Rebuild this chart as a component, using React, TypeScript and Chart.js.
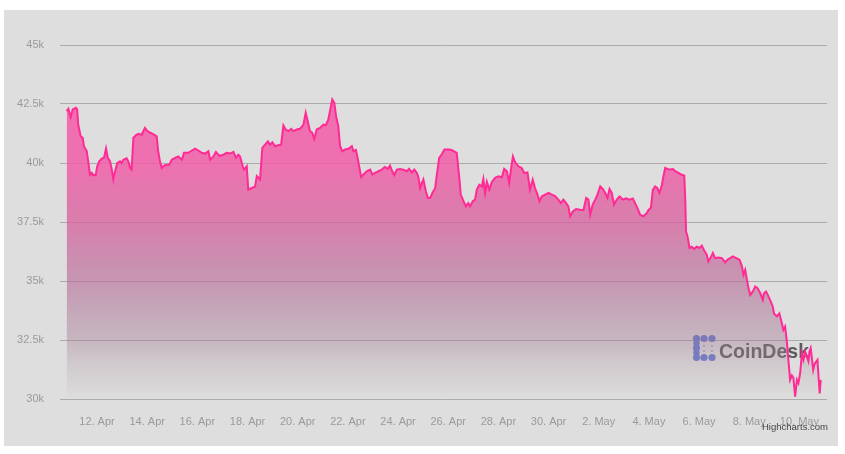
import React, { useEffect, useRef } from "react";
import { Chart, registerables } from "chart.js";

Chart.register(...registerables);

// Days since 12 Apr 00:00
const days = [
  -1.21, -1.14, -1.05, -0.97, -0.84, -0.79, -0.75, -0.65, -0.57, -0.52,
  -0.41, -0.35, -0.28, -0.21, -0.15, -0.05, 0.01, 0.09, 0.19, 0.28,
  0.36, 0.43, 0.52, 0.59, 0.65, 0.72, 0.81, 0.92, 0.98, 1.05,
  1.18, 1.25, 1.32, 1.38, 1.45, 1.56, 1.65, 1.78, 1.91, 2.01,
  2.14, 2.27, 2.38, 2.44, 2.51, 2.58, 2.64, 2.75, 2.88, 2.98,
  3.11, 3.24, 3.38, 3.47, 3.64, 3.78, 3.91, 4.04, 4.17, 4.31,
  4.44, 4.51, 4.64, 4.74, 4.88, 5.04, 5.17, 5.30, 5.44, 5.54,
  5.63, 5.70, 5.81, 5.86, 5.97, 6.03, 6.17, 6.30, 6.37, 6.50,
  6.59, 6.70, 6.81, 6.90, 6.99, 7.10, 7.23, 7.34, 7.43, 7.52,
  7.63, 7.74, 7.83, 7.96, 8.09, 8.23, 8.32, 8.40, 8.49, 8.58,
  8.66, 8.76, 8.89, 9.02, 9.12, 9.22, 9.30, 9.38, 9.46, 9.53,
  9.62, 9.69, 9.78, 9.89, 10.02, 10.16, 10.22, 10.32, 10.39, 10.45,
  10.53, 10.62, 10.75, 10.89, 10.98, 11.08, 11.22, 11.35, 11.48, 11.59,
  11.68, 11.77, 11.85, 11.95, 12.08, 12.21, 12.35, 12.44, 12.55, 12.65,
  12.75, 12.81, 12.88, 12.95, 13.01, 13.11, 13.19, 13.28, 13.37, 13.48,
  13.54, 13.64, 13.74, 13.85, 14.01, 14.14,
  14.34, 14.45, 14.50, 14.61, 14.71, 14.80, 14.87, 14.98, 15.07, 15.14,
  15.24, 15.34, 15.40, 15.47, 15.54, 15.64, 15.74, 15.87, 16.00, 16.14,
  16.23, 16.34, 16.43, 16.50, 16.58, 16.67, 16.80, 16.93, 17.03, 17.16,
  17.26, 17.37, 17.46, 17.56, 17.64, 17.73, 17.86, 18.00, 18.13, 18.26,
  18.39, 18.49, 18.59, 18.70, 18.79, 18.86, 18.97, 19.10, 19.26, 19.39,
  19.50, 19.59, 19.66, 19.76, 19.86, 19.95, 20.06, 20.16, 20.26, 20.35,
  20.43, 20.52, 20.61, 20.72, 20.83, 20.96, 21.09, 21.22, 21.36, 21.45,
  21.54, 21.65, 21.78, 21.92,
  21.98, 22.08, 22.16, 22.25, 22.34, 22.42, 22.52, 22.58, 22.65, 22.74,
  22.85, 22.95, 23.05, 23.18, 23.31, 23.41, 23.45, 23.48, 23.54, 23.62,
  23.71, 23.80, 23.91, 24.01, 24.11, 24.20, 24.31, 24.37, 24.47, 24.55,
  24.64, 24.77, 24.91, 25.04, 25.13, 25.24, 25.35, 25.48, 25.61, 25.71,
  25.77, 25.84, 25.91, 25.97, 26.04, 26.14, 26.24, 26.33, 26.44, 26.54,
  26.59, 26.67, 26.77, 26.86, 26.94, 26.99, 27.10, 27.20, 27.30, 27.36,
  27.43, 27.50, 27.56, 27.63, 27.70, 27.76, 27.83, 27.90, 27.96, 28.03,
  28.10, 28.16, 28.23, 28.30, 28.36, 28.40, 28.45, 28.55, 28.61, 28.72,
  28.77, 28.81, 28.85,
];

const prices = [
  42200, 42300, 41940, 42270, 42340, 42270, 41630, 41130, 41070, 40710,
  40500, 40070, 39510, 39580, 39480, 39500, 39860, 40070, 40190, 40220,
  40610, 40220, 40070, 39720, 39300, 39650, 40000, 40070, 40000, 40140,
  40200, 40070, 39790, 39720, 41070, 41180, 41240, 41200, 41490, 41350,
  41280, 41200, 41130, 40500, 40070, 39790, 39860, 39930, 39930, 40140,
  40220, 40280, 40140, 40430, 40430, 40530, 40610, 40530, 40430, 40400,
  40500, 40140, 40280, 40470, 40300, 40350, 40430, 40400, 40470, 40220,
  40350, 40280, 39860, 39720, 39860, 38870, 38940, 39000, 39440, 39300,
  40640, 40780, 40920, 40780, 40880, 40710, 40750, 40780, 41590, 41420,
  41350, 41450, 41350, 41420, 41450, 41630, 42130, 41770, 41350, 41280,
  41020, 41420, 41490, 41630, 41600, 41840, 42270, 42690, 42550, 41980,
  41560, 40710, 40500, 40570, 40600, 40710, 40500, 40550, 40220, 39860,
  39410, 39510, 39650, 39720, 39510, 39580, 39650, 39720, 39830, 39750,
  39890, 39650, 39480, 39720, 39750, 39720, 39650, 39750, 39600, 39720,
  39580, 39410, 38940, 39160, 39300, 38800, 38520, 38520, 38730, 38940,
  39440, 40220, 40360, 40570, 40570, 40550,
  40430, 39300, 38660, 38380, 38160, 38300, 38160, 38380, 38450, 38870,
  39080, 39000, 39320, 38730, 39200, 38870, 39200, 39370, 39440, 39400,
  39750, 39650, 39160, 39720, 40280, 40030, 39860, 39790, 39580, 39600,
  38870, 39300, 38940, 38660, 38380, 38580, 38660, 38730, 38660, 38600,
  38450, 38300, 38450, 38300, 38160, 37740, 37950, 38050, 38020, 38000,
  38520, 38450, 37810, 38240, 38450, 38660, 39010, 38900, 38730, 38520,
  38900, 38730, 38240, 38450, 38580, 38450, 38500, 38450, 38500, 38300,
  38100, 37810, 37740, 37880,
  38000, 38100, 38870, 39010, 38940, 38730, 39080, 39440, 39790, 39750,
  39720, 39750, 39650, 39580, 39500, 39470, 38450, 37100, 36890, 36400,
  36450, 36360, 36450, 36400, 36500, 36300, 36110, 35830, 36000, 36190,
  35970, 36000, 35970, 35790, 35900, 35970, 36040, 35970, 35900, 35620,
  35260, 35470, 35050, 34700, 34410, 34550, 34770, 34700, 34480, 34200,
  34480, 34550, 34340, 34130, 33900, 33610, 33500, 33630, 33210, 32930,
  33070, 32430, 31660, 30810, 31000, 30900, 30100, 30810, 30670, 31090,
  31940, 31660, 32000, 31800, 31600, 32000, 32150, 31230, 31500, 31660,
  30810, 30240, 30810,
];

const xTickDays = [0, 2, 4, 6, 8, 10, 12, 14, 16, 18, 20, 22, 24, 26, 28];
const xTickLabels = [
  "12. Apr", "14. Apr", "16. Apr", "18. Apr", "20. Apr", "22. Apr", "24. Apr",
  "26. Apr", "28. Apr", "30. Apr", "2. May", "4. May", "6. May", "8. May", "10. May",
];
const yTickValues = [30000, 32500, 35000, 37500, 40000, 42500, 45000];
const yTickLabels = ["30k", "32.5k", "35k", "37.5k", "40k", "42.5k", "45k"];

const FONT = '"Liberation Sans", Arial, Helvetica, sans-serif';

export default function App() {
  const ref = useRef<HTMLCanvasElement>(null);

  useEffect(() => {
    const canvas = ref.current;
    if (!canvas) return;

    const brand = {
      id: "brand",
      beforeDatasetsDraw(chart: any) {
        const ctx = chart.ctx;
        const a = chart.chartArea;
        const lx = a.right - 130.5; // logo left column centre
        const ly = a.bottom - 60.5; // logo top row centre
        ctx.save();
        ctx.fillStyle = "#6277d0";
        const big = [
          [0, 0], [7.5, 0], [15.5, 0],
          [0, 9.5], [0, 19],
          [7.5, 19], [15.5, 19],
        ];
        for (const [dx, dy] of big) {
          ctx.beginPath();
          ctx.arc(lx + dx, ly + dy, 3.6, 0, Math.PI * 2);
          ctx.fill();
        }
        ctx.beginPath();
        ctx.arc(lx, ly + 4.8, 3.2, 0, Math.PI * 2);
        ctx.arc(lx, ly + 14.2, 3.2, 0, Math.PI * 2);
        ctx.fill();
        ctx.fillStyle = "rgba(98,119,208,0.55)";
        const small = [
          [7.5, 7.5], [15.5, 7.5], [7.5, 12.5], [15.5, 12.5],
        ];
        for (const [dx, dy] of small) {
          ctx.beginPath();
          ctx.arc(lx + dx, ly + dy, 1.1, 0, Math.PI * 2);
          ctx.fill();
        }
        ctx.fillStyle = "rgba(72,72,72,0.88)";
        ctx.font = `bold 21px ${FONT}`;
        ctx.textAlign = "left";
        ctx.textBaseline = "alphabetic";
        ctx.fillText("CoinDesk", a.right - 108, a.bottom - 41.5, 90);
        ctx.restore();
      },
      afterDraw(chart: any) {
        const ctx = chart.ctx;
        const a = chart.chartArea;
        ctx.save();
        ctx.fillStyle = "#444";
        ctx.font = `9.5px ${FONT}`;
        ctx.textAlign = "right";
        ctx.textBaseline = "middle";
        ctx.fillText("Highcharts.com", a.right + 1, a.bottom + 28.5);
        ctx.restore();
      },
    };

    const chart = new Chart(canvas, {
      type: "line",
      data: {
        datasets: [
          {
            data: days.map((d, i) => ({ x: d, y: prices[i] })),
            borderColor: "#ff2a94",
            borderWidth: 2,
            pointRadius: 0,
            tension: 0,
            fill: "start",
            backgroundColor: (context: any) => {
              const c = context.chart;
              const area = c.chartArea;
              if (!area) return "rgba(0,0,0,0)";
              const g = c.ctx.createLinearGradient(0, area.top, 0, area.bottom);
              g.addColorStop(0, "rgba(244,88,168,0.85)");
              g.addColorStop(0.336, "rgba(241,93,168,0.85)");
              g.addColorStop(0.503, "rgba(214,94,155,0.75)");
              g.addColorStop(0.667, "rgba(182,102,149,0.6)");
              g.addColorStop(0.833, "rgba(162,122,147,0.4)");
              g.addColorStop(0.93, "rgba(172,152,162,0.2)");
              g.addColorStop(1, "rgba(172,152,162,0)");
              return g;
            },
          },
        ],
      },
      options: {
        animation: false,
        responsive: false,
        maintainAspectRatio: false,
        layout: { padding: { left: 0, right: 11, top: 35, bottom: 0 } },
        plugins: {
          legend: { display: false },
          tooltip: { enabled: false },
        },
        scales: {
          x: {
            type: "linear",
            min: -1.475,
            max: 29.1,
            grid: { display: false },
            border: { display: false },
            afterBuildTicks: (s: any) => {
              s.ticks = xTickDays.map((v) => ({ value: v }));
            },
            afterFit: (s: any) => {
              s.height = 47;
            },
            ticks: {
              autoSkip: false,
              maxRotation: 0,
              padding: 8,
              color: "#9a9a9a",
              font: { family: FONT, size: 11 },
              callback: (_v: any, i: number) => xTickLabels[i],
            },
          },
          y: {
            type: "linear",
            min: 30000,
            max: 45000,
            afterBuildTicks: (s: any) => {
              s.ticks = yTickValues.map((v) => ({ value: v }));
            },
            afterFit: (s: any) => {
              s.width = 56;
            },
            grid: { color: "#ababab", drawTicks: false, lineWidth: 1 },
            border: { display: false },
            ticks: {
              padding: 16,
              color: "#9a9a9a",
              font: { family: FONT, size: 11 },
              callback: (_v: any, i: number) => yTickLabels[i],
            },
          },
        },
      },
      plugins: [brand],
    });

    return () => chart.destroy();
  }, []);

  return (
    <div
      style={{
        position: "absolute",
        left: 4,
        top: 10,
        width: 834,
        height: 436,
        background: "#dedede",
      }}
    >
      <canvas ref={ref} width={834} height={436} style={{ display: "block" }} />
    </div>
  );
}
